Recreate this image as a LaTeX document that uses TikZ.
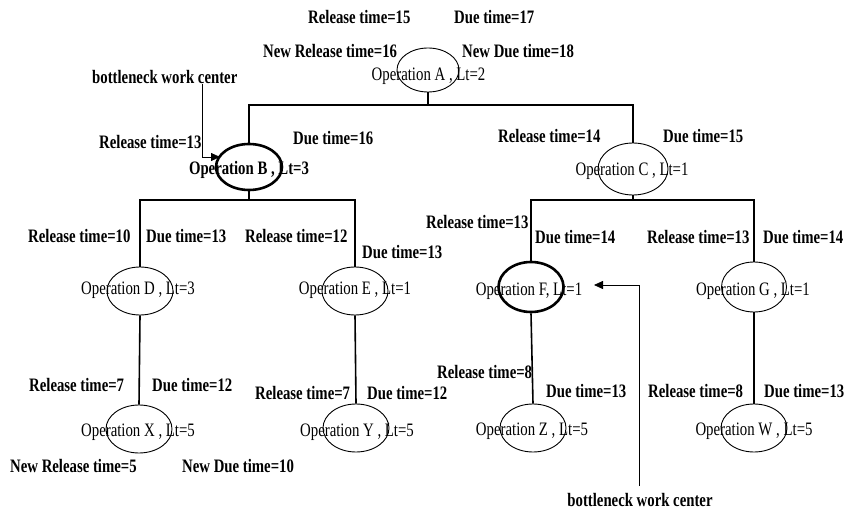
\documentclass[tikz,border=0pt]{standalone}
\usepackage{fontspec}
\setmainfont{Liberation Serif}
\newfontfamily\opf[FakeStretch=0.78]{Liberation Serif}
\newfontfamily\labf[FakeStretch=0.777]{Liberation Serif}
\usetikzlibrary{shapes.geometric,arrows.meta}
\tikzset{
 opell/.style={draw, ellipse, minimum width=66pt, minimum height=48pt, inner sep=0pt, line width=0.9pt},
 bopell/.style={opell, line width=2.6pt},
 optxt/.style={inner sep=0pt, font=\opf\fontsize{19}{21}\selectfont},
 boptxt/.style={inner sep=0pt, font=\labf\bfseries\fontsize{19}{21}\selectfont},
 lab/.style={inner sep=0pt, anchor=west, font=\labf\bfseries\fontsize{19}{21}\selectfont},
 tree/.style={line width=1.6pt},
 arr/.style={line width=0.8pt, -{Triangle[length=9pt,width=8pt]}}
}
\begin{document}
\begin{tikzpicture}[x=1pt,y=-1pt]
\useasboundingbox (0,0) rectangle (848,510);
% ellipses
\node[opell, minimum width=62pt, minimum height=44pt] (A) at (428,70) {};
\node[bopell, minimum width=66pt, minimum height=46pt] (B) at (249,167) {};
\node[opell, minimum width=70pt, minimum height=52pt] (C) at (633,169) {};
\node[opell] (D) at (140,291) {};
\node[opell] (E) at (355,291) {};
\node[bopell, minimum width=65pt, minimum height=50pt] (F) at (531,287) {};
\node[opell, minimum width=65pt, minimum height=50pt] (G) at (754,287) {};
\node[opell] (X) at (139,429) {};
\node[opell] (Y) at (356,428) {};
\node[opell] (Z) at (533,428) {};
\node[opell] (W) at (754,428) {};
% node texts
\node[optxt] (At) at (428.5,76) {Operation A , Lt=2};
\node[boptxt] (Bt) at (249,170) {Operation B , Lt=3};
\node[optxt] (Ct) at (632,171) {Operation C , Lt=1};
\node[optxt] (Dt) at (138,290) {Operation D , Lt=3};
\node[optxt] (Et) at (355,290) {Operation E , Lt=1};
\node[optxt] (Ft) at (529,291) {Operation F, Lt=1};
\node[optxt] (Gt) at (753,291) {Operation G , Lt=1};
\node[optxt] (Xt) at (138,432) {Operation X , Lt=5};
\node[optxt] (Yt) at (357,432) {Operation Y , Lt=5};
\node[optxt] (Zt) at (532,431) {Operation Z , Lt=5};
\node[optxt] (Wt) at (754,431) {Operation W , Lt=5};
% tree connectors
\coordinate (jA) at (428,105);
\coordinate (jB) at (249,200);
\coordinate (jC) at (633,200);
\draw[tree] (A.south) -- (jA);
\draw[tree] (B.north) |- (jA) -| (C.north);
\draw[tree] (B.south) -- (jB);
\draw[tree] (D.north) |- (jB) -| (E.north);
\draw[tree] (C.south) -- (jC);
\draw[tree] (F.north) |- (jC) -| (G.north);
\draw[tree] (D.south) -- (X.north);
\draw[tree] (E.south) -- (Y.north);
\draw[tree] (F.south) -- (Z.north);
\draw[tree] (G.south) -- (W.north);
% labels
\node[lab] (l1) at (308,17) {Release time=15};
\node[lab] (l2) at (454,17) {Due time=17};
\node[lab] (l3) at (263,51) {New Release time=16};
\node[lab] (l4) at (462,51) {New Due time=18};
\node[lab] (bn1) at (92,77) {bottleneck work center};
\node[lab] (l5) at (99,142) {Release time=13};
\node[lab] (l6) at (293,138) {Due time=16};
\node[lab] (l7) at (498,136) {Release time=14};
\node[lab] (l8) at (663,136) {Due time=15};
\node[lab] (l9) at (28,236) {Release time=10};
\node[lab] (l10) at (146,236) {Due time=13};
\node[lab] (l11) at (245,236) {Release time=12};
\node[lab] (l12) at (362,252) {Due time=13};
\node[lab] (l13) at (426,222) {Release time=13};
\node[lab] (l14) at (535,237) {Due time=14};
\node[lab] (l15) at (647,237) {Release time=13};
\node[lab] (l16) at (763,237) {Due time=14};
\node[lab] (l17) at (29,385) {Release time=7};
\node[lab] (l18) at (152,385) {Due time=12};
\node[lab] (l19) at (255,393) {Release time=7};
\node[lab] (l20) at (367,393) {Due time=12};
\node[lab] (l21) at (437,372) {Release time=8};
\node[lab] (l22) at (546,391) {Due time=13};
\node[lab] (l23) at (648,391) {Release time=8};
\node[lab] (l24) at (764,391) {Due time=13};
\node[lab] (l25) at (10,466) {New Release time=5};
\node[lab] (l26) at (182,466) {New Due time=10};
\node[lab, anchor=center] (bn2) at (640,500) {bottleneck work center};
% bottleneck arrows
\coordinate (s1) at (202,84);
\coordinate (t1) at (220,157);
\draw[arr] (s1) |- (t1);
\coordinate (s2) at (639,486);
\coordinate (t2) at (594,285);
\draw[arr] (s2) |- (t2);
\end{tikzpicture}
\end{document}
